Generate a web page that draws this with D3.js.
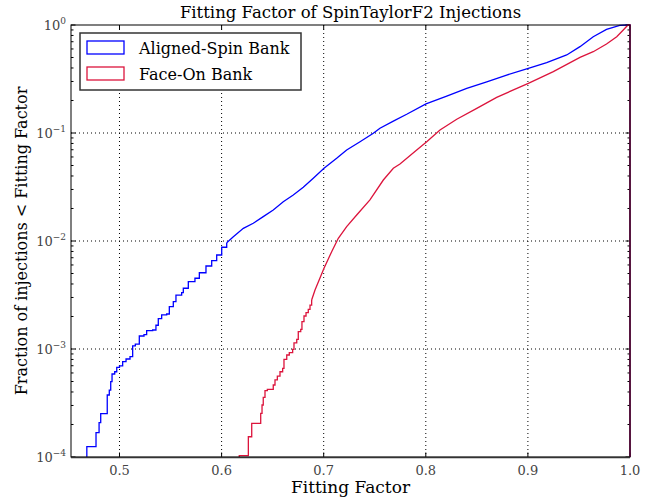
<!DOCTYPE html>
<html>
  <head>
    <meta charset="utf-8">
    <title>Fitting Factor of SpinTaylorF2 Injections</title>
    <script src="https://cdn.jsdelivr.net/npm/d3@7"></script>
    <style>
      body { margin: 0; background: #fff; }
      text { font-family: "DejaVu Serif", serif; }
    </style>
  </head>
  <body>
    <svg id="chart" width="657" height="499"></svg>

    <script>
      // data (fitting factor, cumulative fraction)
      seriesNames = ["Aligned-Spin Bank", "Face-On Bank"];
      seriesColours = ["#0000ff", "#dc143c"];

      blueSteps = [
        [0.468, 1.245e-4], [0.477, 1.68e-4], [0.480, 2.08e-4], [0.4816, 2.52e-4],
        [0.488, 3.75e-4], [0.490, 4.17e-4], [0.4914, 4.98e-4], [0.4927, 5.87e-4],
        [0.4953, 6.16e-4], [0.4973, 6.77e-4], [0.500, 6.97e-4], [0.5031, 7.63e-4],
        [0.5064, 8.08e-4], [0.5103, 8.49e-4], [0.5129, 1.07e-3], [0.5155, 1.11e-3],
        [0.5194, 1.32e-3], [0.524, 1.36e-3], [0.5266, 1.48e-3], [0.5325, 1.50e-3],
        [0.5357, 1.66e-3], [0.538, 1.91e-3], [0.5413, 2.07e-3], [0.5462, 2.11e-3],
        [0.5488, 2.47e-3], [0.5527, 2.74e-3], [0.5553, 3.16e-3], [0.5609, 3.32e-3],
        [0.5625, 3.65e-3], [0.5674, 4.20e-3], [0.5739, 4.52e-3], [0.5782, 5.08e-3],
        [0.5847, 5.87e-3], [0.5903, 6.58e-3], [0.5952, 7.42e-3], [0.6001, 8.75e-3],
        [0.605, 9.64e-3]
      ];
      blueSmooth = [
        [0.605, 9.64e-3], [0.6115, 0.01096], [0.6213, 0.0131], [0.631, 0.0146],
        [0.6408, 0.0168], [0.6506, 0.0194], [0.6604, 0.0231], [0.6702, 0.0267],
        [0.68, 0.0314], [0.6898, 0.0381], [0.7003, 0.0471], [0.7127, 0.0583],
        [0.7225, 0.0697], [0.7356, 0.0830], [0.7486, 0.0994], [0.7551, 0.1107],
        [0.7682, 0.129], [0.7813, 0.149], [0.8002, 0.186], [0.8205, 0.220],
        [0.8401, 0.259], [0.8597, 0.298], [0.8792, 0.344], [0.9004, 0.397],
        [0.9184, 0.448], [0.938, 0.528], [0.951, 0.630], [0.964, 0.779],
        [0.977, 0.912], [0.990, 0.994], [0.998, 1.0], [1.0, 1.0], [1.0, 1e-4]
      ];

      redSteps = [
        [0.6173, 1.03e-4], [0.6262, 1.54e-4], [0.6295, 2.05e-4], [0.6383, 2.54e-4],
        [0.6396, 3.03e-4], [0.6408, 3.57e-4], [0.6425, 4.11e-4], [0.6448, 4.23e-4],
        [0.6506, 4.64e-4], [0.6523, 5.17e-4], [0.6546, 5.62e-4], [0.6572, 6.16e-4],
        [0.6598, 6.63e-4], [0.6611, 8.03e-4], [0.6638, 8.80e-4], [0.6663, 9.24e-4],
        [0.6696, 9.93e-4], [0.6709, 1.14e-3], [0.6736, 1.23e-3], [0.6751, 1.45e-3],
        [0.6775, 1.52e-3], [0.6787, 1.79e-3], [0.6807, 2.02e-3], [0.6827, 2.17e-3],
        [0.6849, 2.33e-3], [0.6866, 2.55e-3], [0.6882, 2.84e-3]
      ];
      redSmooth = [
        [0.6882, 2.84e-3], [0.6915, 3.52e-3], [0.7003, 5.59e-3], [0.7078, 7.96e-3],
        [0.7143, 0.0106], [0.7225, 0.0136], [0.7323, 0.0174], [0.7453, 0.0240],
        [0.7584, 0.0367], [0.7682, 0.0471], [0.7747, 0.0516], [0.7911, 0.0697],
        [0.8009, 0.0830], [0.8139, 0.1067], [0.8303, 0.134], [0.8499, 0.169],
        [0.8694, 0.214], [0.9004, 0.288], [0.9249, 0.370], [0.951, 0.502],
        [0.964, 0.566], [0.977, 0.667], [0.987, 0.779], [0.9934, 0.899],
        [0.998, 1.0], [1.0, 1.0], [1.0, 1e-4]
      ];

      xTicks = [0.5, 0.6, 0.7, 0.8, 0.9, 1.0];
      yTicks = [1e-4, 1e-3, 1e-2, 1e-1, 1];
      yExponents = ["\u22124", "\u22123", "\u22122", "\u22121", "0"];

      // layout
      margin = { top: 25, right: 27, bottom: 42, left: 71 };
      width = 657 - margin.left - margin.right;
      height = 499 - margin.top - margin.bottom;

      svg = d3.select("#chart");
      plot = svg.append("g")
        .attr("transform", "translate(" + margin.left + "," + margin.top + ")");

      x = d3.scaleLinear().domain([0.4525, 1.0]).range([0, width]);
      y = d3.scaleLog().domain([1e-4, 1]).range([height, 0]).clamp(true);

      // grid
      plot.selectAll(".xgrid")
        .data(xTicks.filter(d => d < 1))
        .join("line")
          .attr("x1", d => x(d)).attr("x2", d => x(d))
          .attr("y1", 0).attr("y2", height)
          .style("stroke", "#000")
          .style("stroke-width", 1)
          .style("stroke-dasharray", "1,3");
      plot.selectAll(".ygrid")
        .data(yTicks.filter(d => d > 1e-4 && d < 1))
        .join("line")
          .attr("x1", 0).attr("x2", width)
          .attr("y1", d => y(d)).attr("y2", d => y(d))
          .style("stroke", "#000")
          .style("stroke-width", 1)
          .style("stroke-dasharray", "1,3");

      // minor log ticks on both sides
      minor = [];
      for (let e = -4; e < 0; e++) {
        for (let k = 2; k < 10; k++) minor.push(k * Math.pow(10, e));
      }
      plot.selectAll(".yminorL")
        .data(minor)
        .join("line")
          .attr("x1", 0).attr("x2", 2.5)
          .attr("y1", d => y(d)).attr("y2", d => y(d))
          .style("stroke", "#000");
      plot.selectAll(".yminorR")
        .data(minor)
        .join("line")
          .attr("x1", width).attr("x2", width - 2.5)
          .attr("y1", d => y(d)).attr("y2", d => y(d))
          .style("stroke", "#000");
      plot.selectAll(".ymajorL")
        .data(yTicks)
        .join("line")
          .attr("x1", 0).attr("x2", 4.5)
          .attr("y1", d => y(d)).attr("y2", d => y(d))
          .style("stroke", "#000");
      plot.selectAll(".ymajorR")
        .data(yTicks)
        .join("line")
          .attr("x1", width).attr("x2", width - 4.5)
          .attr("y1", d => y(d)).attr("y2", d => y(d))
          .style("stroke", "#000");
      plot.selectAll(".xmajorB")
        .data(xTicks)
        .join("line")
          .attr("x1", d => x(d)).attr("x2", d => x(d))
          .attr("y1", height).attr("y2", height - 4.5)
          .style("stroke", "#000");
      plot.selectAll(".xmajorT")
        .data(xTicks)
        .join("line")
          .attr("x1", d => x(d)).attr("x2", d => x(d))
          .attr("y1", 0).attr("y2", 4.5)
          .style("stroke", "#000");

      // curves
      stepLine = d3.line()
        .x(d => x(d[0])).y(d => y(d[1]))
        .curve(d3.curveStepAfter);
      smoothLine = d3.line()
        .x(d => x(d[0])).y(d => y(d[1]));

      [[blueSteps, blueSmooth], [redSteps, redSmooth]].forEach((s, i) => {
        let start = [[s[0][0][0], 1e-4]];
        plot.append("path")
          .attr("d", stepLine(start.concat(s[0])))
          .style("fill", "none")
          .style("stroke", seriesColours[i])
          .style("stroke-width", 1.3);
        plot.append("path")
          .attr("d", smoothLine(s[1]))
          .style("fill", "none")
          .style("stroke", seriesColours[i])
          .style("stroke-width", 1.3);
      });

      // frame
      plot.append("rect")
        .attr("width", width).attr("height", height)
        .style("fill", "none")
        .style("stroke", "#000")
        .style("stroke-width", 1);
      plot.append("line")
        .attr("x1", 0).attr("x2", width)
        .attr("y1", height + 0.5).attr("y2", height + 0.5)
        .style("stroke", "#333")
        .style("stroke-width", 1.5);

      // tick labels
      plot.selectAll(".xlab")
        .data(xTicks)
        .join("text")
          .attr("x", d => x(d))
          .attr("y", height + 18)
          .attr("text-anchor", "middle")
          .style("font-size", "13px")
          .style("fill", "#444")
          .text(d => d.toFixed(1));
      ylab = plot.selectAll(".ylab")
        .data(yTicks)
        .join("text")
          .attr("x", -5)
          .attr("y", d => y(d) + 5)
          .attr("text-anchor", "end")
          .style("font-size", "13px")
          .style("fill", "#444");
      ylab.append("tspan").text("10");
      ylab.append("tspan")
        .attr("dy", -6)
        .style("font-size", "9px")
        .text((d, i) => yExponents[i]);

      // titles
      svg.append("text")
        .attr("x", margin.left + width / 2)
        .attr("y", 18)
        .attr("text-anchor", "middle")
        .style("font-size", "16.5px")
        .text("Fitting Factor of SpinTaylorF2 Injections");
      svg.append("text")
        .attr("x", margin.left + width / 2)
        .attr("y", 493)
        .attr("text-anchor", "middle")
        .style("font-size", "17px")
        .text("Fitting Factor");
      svg.append("text")
        .attr("transform", "translate(27," + (margin.top + height / 2) + ") rotate(-90)")
        .attr("text-anchor", "middle")
        .style("font-size", "16px")
        .text("Fraction of injections < Fitting Factor");

      // legend
      legend = svg.append("g").attr("transform", "translate(80,33)");
      legend.append("rect")
        .attr("width", 221).attr("height", 57)
        .style("fill", "#fff")
        .style("stroke", "#333")
        .style("stroke-width", 1.5);
      item = legend.selectAll(".item")
        .data(seriesNames)
        .join("g")
          .attr("transform", (d, i) => "translate(7," + (8 + i * 26) + ")");
      item.append("rect")
        .attr("width", 37).attr("height", 13)
        .style("fill", "none")
        .style("stroke", (d, i) => seriesColours[i])
        .style("stroke-width", 1.3);
      item.append("text")
        .attr("x", 52).attr("y", 13)
        .style("font-size", "16px")
        .text(d => d);
    </script>
  </body>
</html>
